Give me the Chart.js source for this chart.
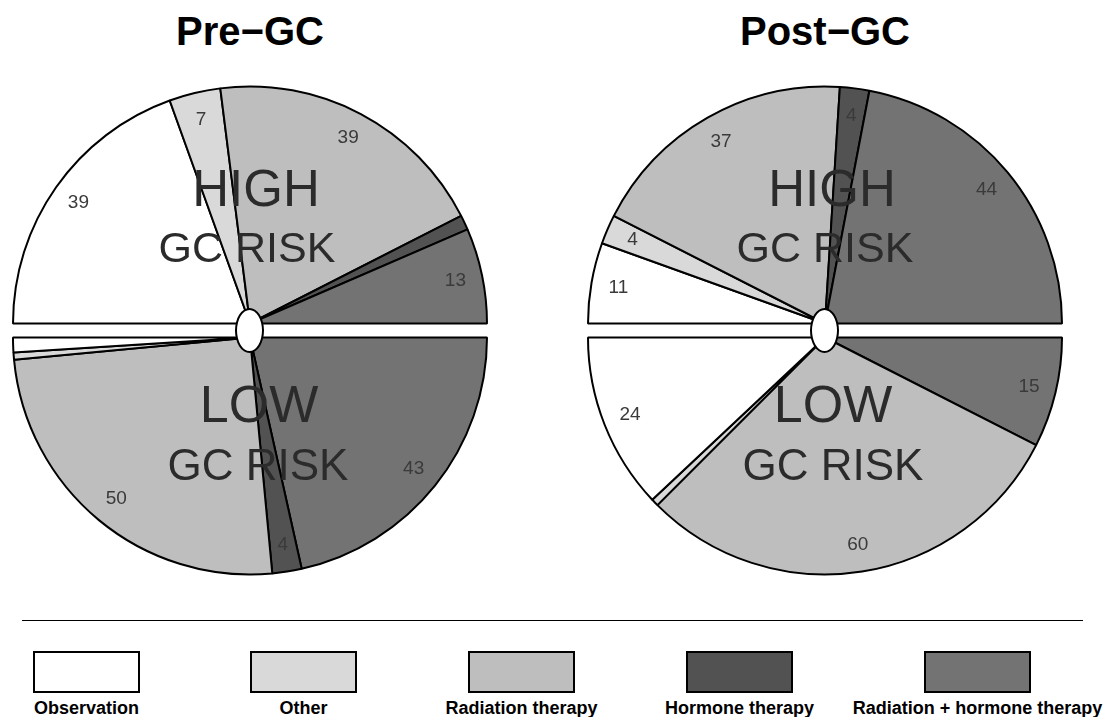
<!DOCTYPE html>
<html lang="en">
<head>
<meta charset="UTF-8">
<title>Pre-GC / Post-GC treatment</title>
<script src="https://cdn.jsdelivr.net/npm/chart.js@4.4.1/dist/chart.umd.min.js"></script>
<style>
    body { margin: 0; background: #fff; font-family: "Liberation Sans", Arial, sans-serif; }
    .page { position: relative; width: 1112px; height: 717px; overflow: hidden; }
    .title { position: absolute; top: 8px; width: 300px; text-align: center; font-size: 40px; font-weight: bold; color: #000; line-height: 46px; }
    .half { position: absolute; width: 476px; height: 240px; }
    .hole { position: absolute; width: 25px; height: 41px; border: 2px solid #000; border-radius: 50%; background: #fff; }
    .rule { position: absolute; left: 22px; top: 620px; width: 1061px; height: 0; border-top: 1.5px solid #000; }
    .key { position: absolute; top: 651px; width: 103px; height: 38px; border: 2px solid #000; }
    .key-label { position: absolute; top: 698px; width: 300px; text-align: center; font-size: 18px; font-weight: bold; line-height: 20px; color: #000; }
</style>
</head>
<body>
<div class="page" id="page">
    <div class="title" style="left:100px">Pre&minus;GC</div>
    <div class="title" style="left:675px">Post&minus;GC</div>

    <div class="half" style="left:11.5px; top:85.4px"><canvas id="preHigh"></canvas></div>
    <div class="half" style="left:11.5px; top:335.6px"><canvas id="preLow"></canvas></div>
    <div class="half" style="left:586.5px; top:85.4px"><canvas id="postHigh"></canvas></div>
    <div class="half" style="left:586.5px; top:335.6px"><canvas id="postLow"></canvas></div>

    <div class="hole" style="left:235px; top:308px"></div>
    <div class="hole" style="left:810px; top:308px"></div>

    <div class="rule"></div>
</div>

<script>
    // treatment categories, in order from the left edge of each half
    const treatments = ['Observation', 'Other', 'Radiation therapy', 'Hormone therapy', 'Radiation + hormone therapy'];

    // counts
    const preHighRisk  = [39, 7, 39, 2, 13];
    const preLowRisk   = [2, 1, 50, 4, 43];
    const postHighRisk = [11, 4, 37, 4, 44];
    const postLowRisk  = [24, 1, 60, 0, 15];

    const fills = ['#ffffff', '#d9d9d9', '#bebebe', '#525252', '#737373'];
    const legendLeft = [33, 250, 468, 686, 924];

    // slice counts written near the rim
    const sliceNumbers = {
        id: 'sliceNumbers',
        afterDatasetsDraw(chart) {
            const ctx = chart.ctx;
            const ds = chart.data.datasets[0];
            const meta = chart.getDatasetMeta(0);
            ctx.save();
            ctx.font = '19px "Liberation Sans", Arial, sans-serif';
            ctx.fillStyle = '#3a3a3a';
            ctx.textAlign = 'center';
            ctx.textBaseline = 'middle';
            meta.data.forEach((arc, i) => {
                const v = ds.data[i];
                if (v < 4) return;
                const p = arc.getProps(['x', 'y', 'startAngle', 'endAngle', 'outerRadius'], true);
                const mid = (p.startAngle + p.endAngle) / 2;
                const r = p.outerRadius * 0.885;
                ctx.fillText(String(v), p.x + Math.cos(mid) * r, p.y + Math.sin(mid) * r);
            });
            ctx.restore();
        }
    };

    // big HIGH / LOW GC RISK captions
    const riskText = {
        id: 'riskText',
        afterDatasetsDraw(chart, args, opts) {
            if (!opts.lines) return;
            const ctx = chart.ctx;
            const arc = chart.getDatasetMeta(0).data[0];
            ctx.save();
            ctx.fillStyle = '#2b2b2b';
            ctx.textAlign = 'center';
            ctx.textBaseline = 'middle';
            opts.lines.forEach(l => {
                ctx.font = l.size + 'px "Liberation Sans", Arial, sans-serif';
                ctx.fillText(l.text, arc.x + l.dx, arc.y + l.dy);
            });
            ctx.restore();
        }
    };

    function makeHalf(id, values, top, lines) {
        // top half: left -> over the top -> right; bottom half: right -> under -> left
        const data = top ? values.slice() : values.slice().reverse();
        const colors = top ? fills.slice() : fills.slice().reverse();
        const labels = top ? treatments.slice() : treatments.slice().reverse();
        return new Chart(document.getElementById(id), {
            type: 'pie',
            data: {
                labels: labels,
                datasets: [{
                    data: data,
                    backgroundColor: colors,
                    borderColor: '#000',
                    borderWidth: 2,
                    hoverBorderWidth: 2
                }]
            },
            options: {
                responsive: true,
                maintainAspectRatio: false,
                animation: false,
                rotation: top ? -90 : 90,
                circumference: 180,
                layout: { padding: 0 },
                plugins: {
                    legend: { display: false },
                    tooltip: { enabled: false },
                    riskText: { lines: lines }
                }
            },
            plugins: [sliceNumbers, riskText]
        });
    }

    makeHalf('preHigh', preHighRisk, true, [
        { text: 'HIGH', dx: 6, dy: -132, size: 51 },
        { text: 'GC RISK', dx: -3, dy: -73, size: 43 }
    ]);
    makeHalf('preLow', preLowRisk, false, [
        { text: 'LOW', dx: 9, dy: 70, size: 52 },
        { text: 'GC RISK', dx: 8, dy: 130, size: 44 }
    ]);
    makeHalf('postHigh', postHighRisk, true, [
        { text: 'HIGH', dx: 7, dy: -132, size: 51 },
        { text: 'GC RISK', dx: 0, dy: -73, size: 43 }
    ]);
    makeHalf('postLow', postLowRisk, false, [
        { text: 'LOW', dx: 8, dy: 70, size: 52 },
        { text: 'GC RISK', dx: 8, dy: 130, size: 44 }
    ]);

    // legend
    const page = document.getElementById('page');
    treatments.forEach((name, i) => {
        const box = document.createElement('div');
        box.className = 'key';
        box.style.left = legendLeft[i] + 'px';
        box.style.background = fills[i];
        page.appendChild(box);
        const lab = document.createElement('div');
        lab.className = 'key-label';
        lab.style.left = (legendLeft[i] + 53.5 - 150) + 'px';
        lab.textContent = name;
        page.appendChild(lab);
    });
</script>
</body>
</html>
